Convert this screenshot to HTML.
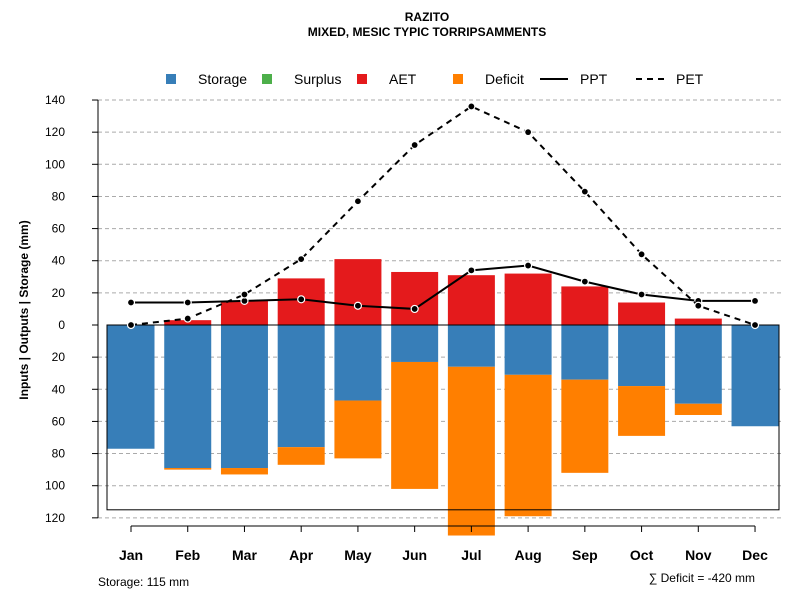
<!DOCTYPE html>
<html><head><meta charset="utf-8"><style>
body{margin:0;background:#fff;font-family:"Liberation Sans",sans-serif}
</style></head><body>
<svg id="c" width="800" height="600" xmlns="http://www.w3.org/2000/svg" font-family="Liberation Sans, sans-serif">
<text x="427" y="21" font-size="12" font-weight="bold" text-anchor="middle">RAZITO</text>
<text x="427" y="36" font-size="12" font-weight="bold" text-anchor="middle">MIXED, MESIC TYPIC TORRIPSAMMENTS</text>
<g id="grid"></g><g id="bars"></g><g id="lines"></g><g id="axes"></g>
<g font-size="14">
<rect x="166" y="74" width="10" height="10" fill="#377eb8"/><text x="198" y="84">Storage</text>
<rect x="262" y="74" width="10" height="10" fill="#4daf4a"/><text x="294" y="84">Surplus</text>
<rect x="357" y="74" width="10" height="10" fill="#e41a1c"/><text x="389" y="84">AET</text>
<rect x="453" y="74" width="10" height="10" fill="#ff7f00"/><text x="485" y="84">Deficit</text>
<line x1="540" y1="79" x2="568" y2="79" stroke="#000" stroke-width="2"/><text x="580" y="84">PPT</text>
<line x1="636" y1="79" x2="664" y2="79" stroke="#000" stroke-width="2" stroke-dasharray="6,5"/><text x="676" y="84">PET</text>
</g>
<text transform="translate(28,310) rotate(-90)" font-size="12" font-weight="bold" text-anchor="middle">Inputs | Outputs | Storage    (mm)</text>
<text x="98" y="586" font-size="12">Storage: 115 mm</text>
<text x="755" y="582" font-size="12" text-anchor="end">∑ Deficit = -420 mm</text>
</svg>
<script>
const months=["Jan","Feb","Mar","Apr","May","Jun","Jul","Aug","Sep","Oct","Nov","Dec"];
const storage=[77,89,89,76,47,23,26,31,34,38,49,63];
const deficit=[0,1,4,11,36,79,105,88,58,31,7,0];
const aet=[0,3,15,29,41,33,31,32,24,14,4,0];
const ppt=[14,14,15,16,12,10,34,37,27,19,15,15];
const pet=[0,4,19,41,77,112,136,120,83,44,12,0];
const yTicks=[140,120,100,80,60,40,20,0,-20,-40,-60,-80,-100,-120];
const storageMax=115;
const NS="http://www.w3.org/2000/svg";
const x=i=>131+i*56.73;
const y=v=>325-v*1.607;
function mk(p,t,a){const e=document.createElementNS(NS,t);for(const k in a)e.setAttribute(k,a[k]);document.getElementById(p).appendChild(e);return e;}
yTicks.forEach(v=>{
 if(v!==0){const g=mk('grid','line',{x1:98,x2:784,y1:y(v),y2:y(v),stroke:'#aaa','stroke-dasharray':'4,3'});
 
 }
 const t=mk('axes','line',{x1:92,x2:98,y1:y(v),y2:y(v),stroke:'#000'});
 
 
 const l=mk('axes','text',{x:65,y:y(v)+4,'font-size':12,'text-anchor':'end'});l.textContent=Math.abs(v);
 
 
});
const bw=47;
months.forEach((m,i)=>{
 const s=mk('bars','rect',{x:x(i)-bw/2,y:y(0),width:bw,height:y(-storage[i])-y(0),fill:'#377eb8'});
 
 
 if(deficit[i]>0){const d=mk('bars','rect',{x:x(i)-bw/2,y:y(-storage[i]),width:bw,height:y(-storage[i]-deficit[i])-y(-storage[i]),fill:'#ff7f00'});
 
 }
 if(aet[i]>0){const a=mk('bars','rect',{x:x(i)-bw/2,y:y(aet[i]),width:bw,height:y(0)-y(aet[i]),fill:'#e41a1c'});
 
 }
 const t=mk('axes','line',{x1:x(i),x2:x(i),y1:526,y2:532,stroke:'#000'});
 
 
 const l=mk('axes','text',{x:x(i),y:560,'font-size':14,'font-weight':'bold','text-anchor':'middle'});l.textContent=m;
 
 
});
const box=mk('bars','rect',{x:107,y:y(0),width:672,height:y(-storageMax)-y(0),fill:'none',stroke:'#000'});


const zl=mk('bars','line',{x1:107,x2:779,y1:y(0),y2:y(0),stroke:'#000'});


const ax=mk('axes','line',{x1:98,x2:98,y1:y(140),y2:y(-120),stroke:'#000'});


const xa=mk('axes','line',{x1:x(0),x2:x(11),y1:526,y2:526,stroke:'#000'});


[[ppt,null,'ppt'],[pet,'6,5','pet']].forEach(([d,da,n])=>{
 const p=mk('lines','polyline',{points:d.map((v,i)=>x(i)+','+y(v)).join(' '),fill:'none',stroke:'#000','stroke-width':2});
 if(da)p.setAttribute('stroke-dasharray',da);
 
 
 d.forEach((v,i)=>{const c=mk('lines','circle',{cx:x(i),cy:y(v),r:3.5,fill:'#000',stroke:'#fff','stroke-width':1.2});
 
 });
});
</script>
</body></html>
